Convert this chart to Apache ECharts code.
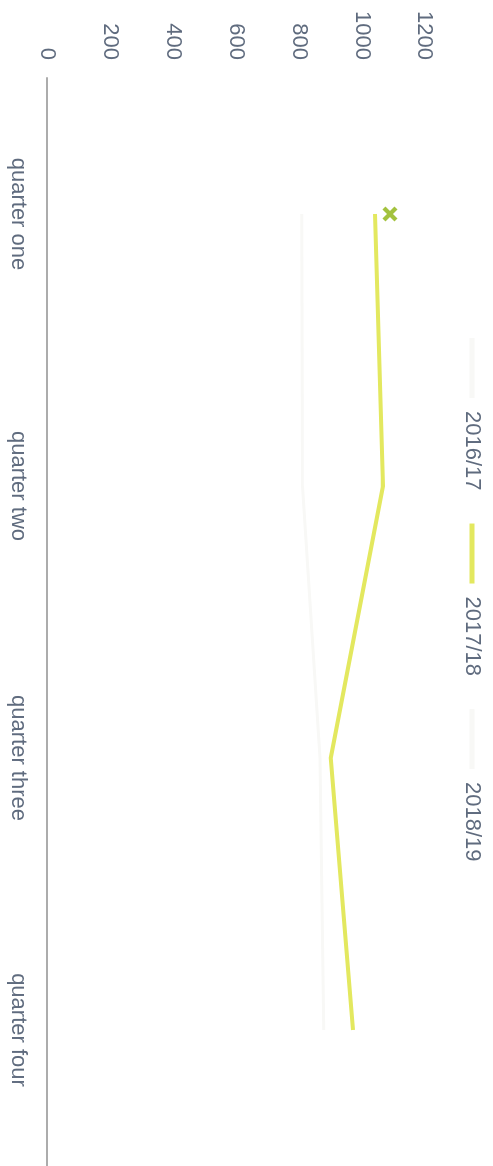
<!DOCTYPE html>
<html>
<head>
<meta charset="utf-8">
<title>Quarterly chart</title>
<script src="https://cdn.jsdelivr.net/npm/echarts@6.0.0/dist/echarts.min.js"></script>
<style>
  html, body { margin: 0; padding: 0; background: #fff; overflow: hidden; width: 493px; height: 1166px; }
  /* the chart is laid out landscape and turned a quarter clockwise, like the scanned page */
  #chart {
    position: absolute; left: 0; top: 0;
    width: 1166px; height: 493px;
    transform-origin: 0 0;
    transform: translateX(493px) rotate(90deg);
  }
</style>
</head>
<body>
<div id="chart"></div>
<script>
const quarters = ['quarter one', 'quarter two', 'quarter three', 'quarter four'];
const years = ['2016/17', '2017/18', '2018/19'];
const values1617 = [810, 812, 868, 880];
const values1718 = [1043, 1068, 902, 973];
const values1819 = [1090, null, null, null];
const valueTicks = [0, 200, 400, 600, 800, 1000, 1200];

const labelColor = '#5f6b7e';
const faint = '#f8f8f6';
const font = '"Liberation Sans", Arial, sans-serif';
const cross = 'path://M2,0 L5,3 L8,0 L10,2 L7,5 L10,8 L8,10 L5,7 L2,10 L0,8 L3,5 L0,2 Z';

const chart = echarts.init(document.getElementById('chart'));
chart.setOption({
  animation: false,
  textStyle: { fontFamily: font },
  legend: {
    left: 333,
    top: 5,
    itemWidth: 60,
    itemHeight: 5,
    itemGap: 33,
    icon: 'rect',
    textStyle: { color: labelColor, fontSize: 22, fontFamily: font, padding: [0, 0, 0, 8] },
    data: [
      { name: years[0], itemStyle: { color: faint } },
      { name: years[1] },
      { name: years[2], itemStyle: { color: faint } },
    ],
  },
  grid: { left: 78, right: -11, top: 68.5, bottom: 47 },
  xAxis: {
    type: 'category',
    data: quarters,
    boundaryGap: true,
    axisLine: { lineStyle: { color: '#acacac', width: 2 } },
    axisTick: { show: false },
    axisLabel: { color: labelColor, fontSize: 22, fontFamily: font, margin: 18 },
  },
  yAxis: {
    type: 'value',
    min: valueTicks[0],
    max: valueTicks[valueTicks.length - 1],
    interval: valueTicks[1] - valueTicks[0],
    axisLine: { show: false },
    axisTick: { show: false },
    splitLine: { show: false },
    axisLabel: {
      color: labelColor, fontSize: 22, fontFamily: font, margin: 18,
      formatter: (v) => String(v),
    },
  },
  series: [
    {
      name: years[0],
      type: 'line',
      data: values1617,
      showSymbol: false,
      color: faint,
      lineStyle: { width: 3, color: faint },
    },
    {
      name: years[1],
      type: 'line',
      data: values1718,
      showSymbol: false,
      color: '#e3e85f',
      lineStyle: { width: 4, color: '#e3e85f' },
    },
    {
      name: years[2],
      type: 'line',
      data: values1819,
      symbol: cross,
      symbolSize: 15,
      color: '#a3c23e',
      itemStyle: { color: '#a3c23e' },
      lineStyle: { width: 3, color: faint },
    },
  ],
});
</script>
</body>
</html>
